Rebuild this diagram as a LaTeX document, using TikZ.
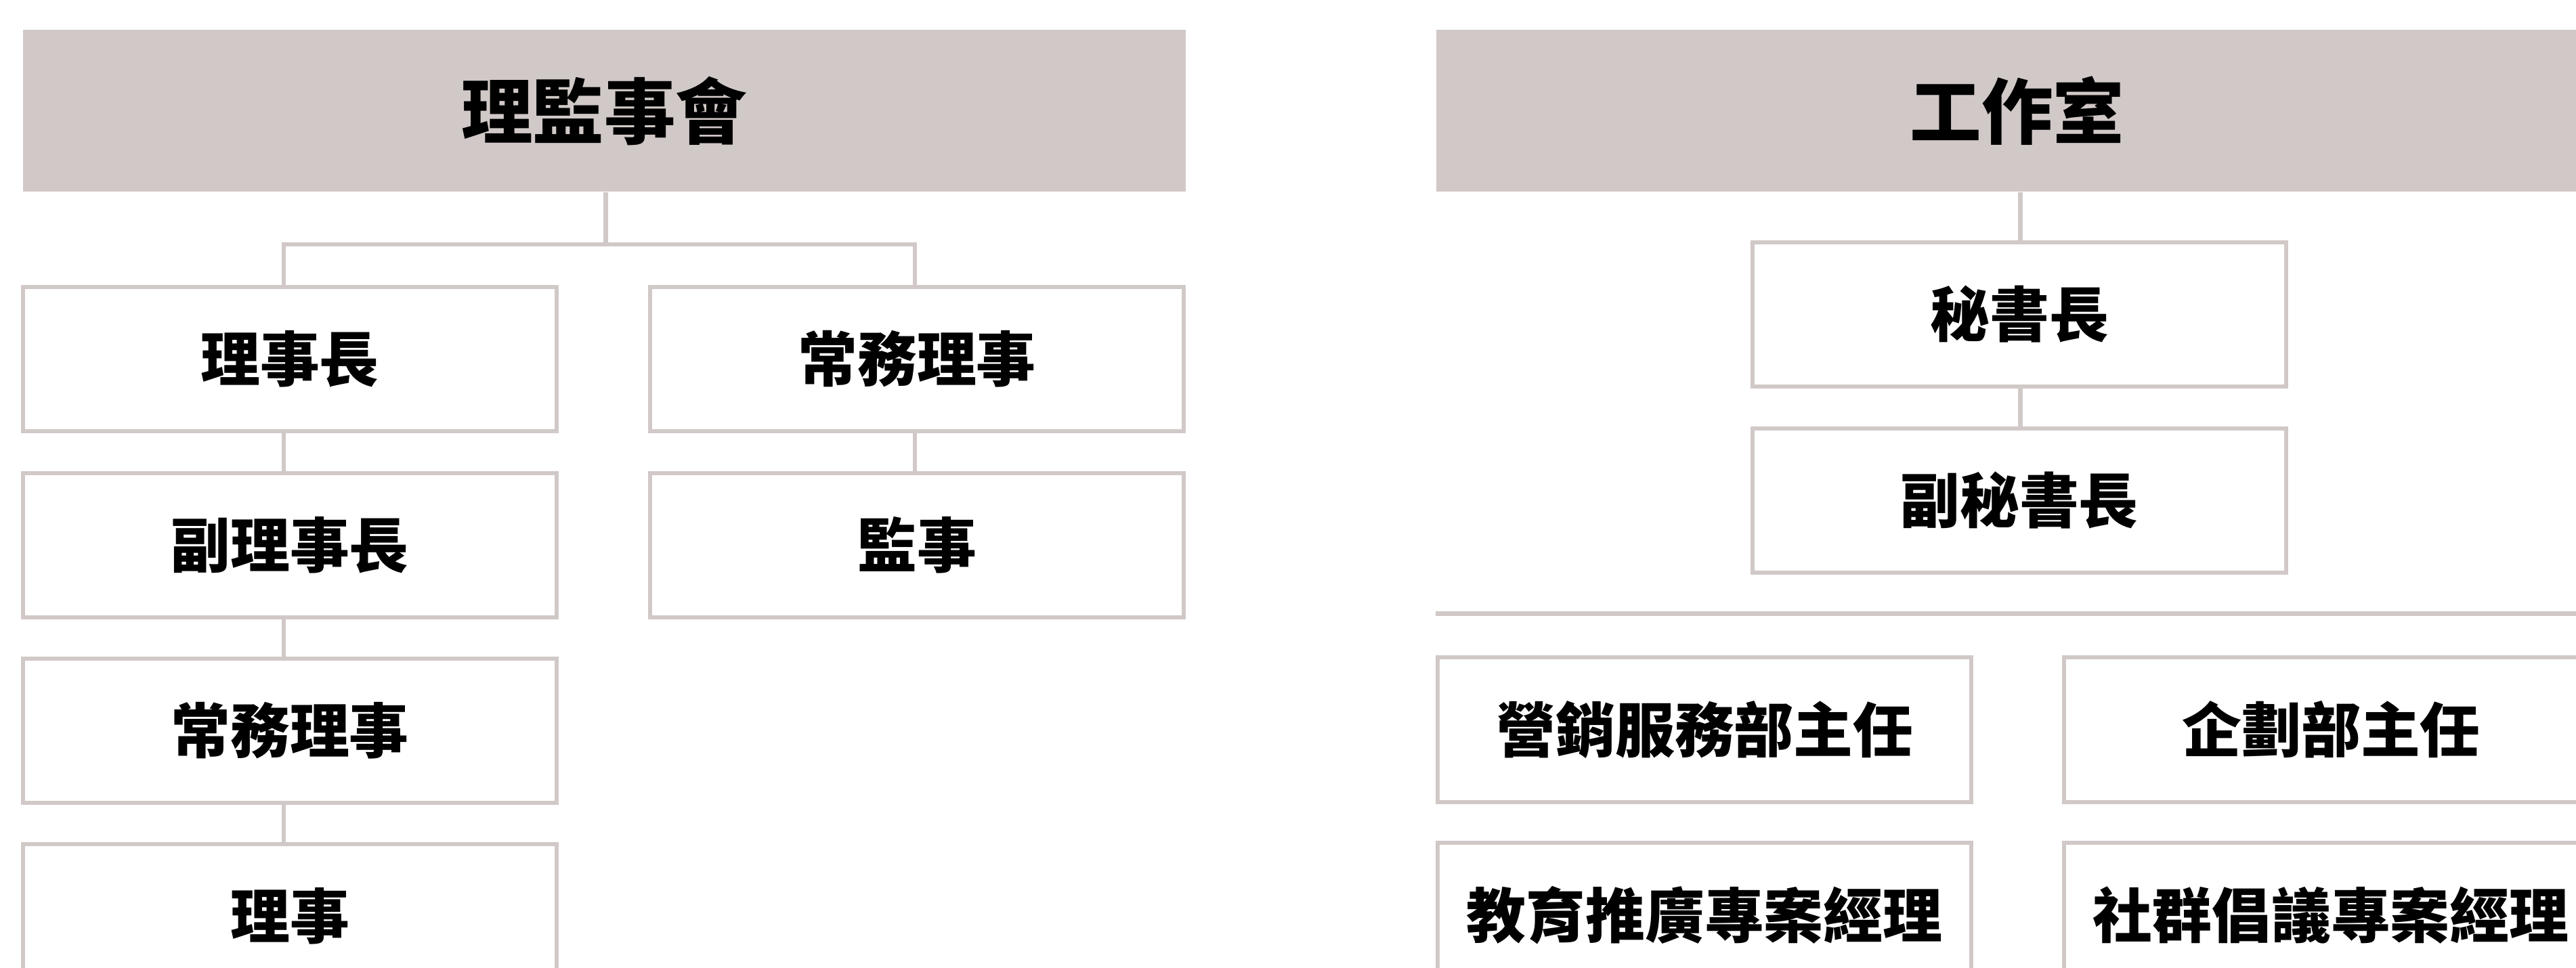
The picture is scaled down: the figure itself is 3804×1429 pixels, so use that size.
\documentclass[tikz,border=0pt]{standalone}
\usepackage{fontspec}
\newfontfamily\cjk{Noto Sans CJK TC}
\definecolor{lg}{HTML}{D1C9C7}
\begin{document}
\begin{tikzpicture}[x=0.01cm,y=-0.01cm,
  hdr/.style={fill=lg, draw=none, minimum width=17.16cm, minimum height=2.39cm, inner sep=0pt,
    font=\cjk\bfseries\fontsize{30pt}{30pt}\selectfont},
  box/.style={draw=lg, fill=white, line width=0.06cm, minimum width=7.88cm, minimum height=2.13cm, inner sep=0pt,
    font=\cjk\bfseries\fontsize{25pt}{25pt}\selectfont},
  conn/.style={draw=lg, line width=0.065cm}]
\useasboundingbox (0,0) rectangle (3804,1429);
\clip (0,0) rectangle (3804,1429);
% left group
\node[hdr] (h1) at (892,163.5) {理監事會};
\node[box] (l1) at (428,530.5) {理事長};
\node[box] (l2) at (428,805.5) {副理事長};
\node[box] (l3) at (428,1079.5) {常務理事};
\node[box] (l4) at (428,1353.5) {理事};
\node[box] (r1) at (1354,530.5) {常務理事};
\node[box] (r2) at (1354,805.5) {監事};
\coordinate (lx) at (419,0);
\coordinate (rx) at (1351,0);
\coordinate (hj) at (894.5,361);
\draw[conn] (h1.south -| hj) -- (hj);
\draw[conn] (l1.north -| lx) |- (hj) -| (r1.north -| rx);
\draw[conn] (l1.south -| lx) -- (l2.north -| lx);
\draw[conn] (l2.south -| lx) -- (l3.north -| lx);
\draw[conn] (l3.south -| lx) -- (l4.north -| lx);
\draw[conn] (r1.south -| rx) -- (r2.north -| rx);
% right group
\node[hdr] (h2) at (2979,163.5) {工作室};
\node[box] (s1) at (2982,464.5) {秘書長};
\node[box] (s2) at (2982,739.5) {副秘書長};
\coordinate (sx) at (2983.5,0);
\draw[conn] (h2.south -| sx) -- (s1.north -| sx);
\draw[conn] (s1.south -| sx) -- (s2.north -| sx);
\coordinate (sepA) at (2120,906.5);
\coordinate (sepB) at (3846,906.5);
\draw[conn] (sepA) -- (sepB);
\node[box] (m1) at (2517,1078) {營銷服務部主任};
\node[box] (m2) at (3442,1078) {企劃部主任};
\node[box] (m3) at (2517,1352) {教育推廣專案經理};
\node[box] (m4) at (3442,1352) {社群倡議專案經理};
\end{tikzpicture}
\end{document}
